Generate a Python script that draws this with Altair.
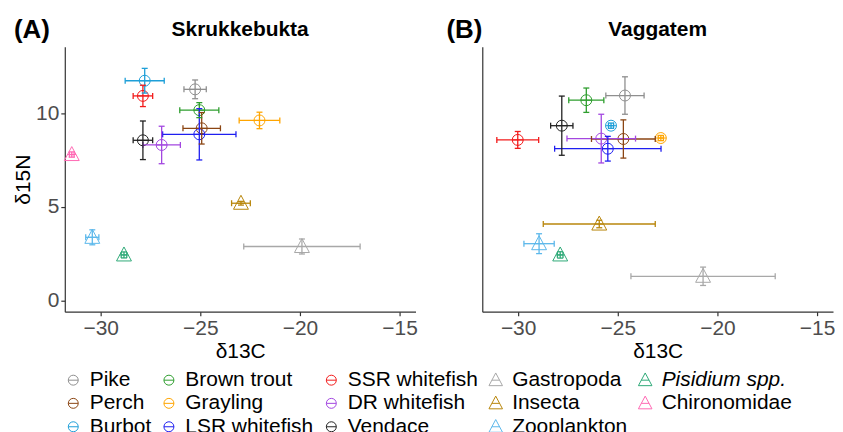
import altair as alt
import pandas as pd

FONT = "Liberation Sans"

species = ["Pike", "Perch", "Burbot", "Brown trout", "Grayling", "LSR whitefish",
           "SSR whitefish", "DR whitefish", "Vendace", "Gastropoda", "Insecta",
           "Zooplankton", "Pisidium spp.", "Chironomidae"]
fish = ["Pike", "Perch", "Burbot", "Brown trout", "Grayling", "LSR whitefish",
        "SSR whitefish", "DR whitefish", "Vendace"]
colors = ["#8f8f8f", "#8B4513", "#1E9FD8", "#2E9E2E", "#FFA500", "#1F1FF0",
          "#F21B1B", "#A347E0", "#222222", "#A8A8A8", "#B8860B",
          "#5CB8EB", "#2FAA78", "#FF69B4"]

# Skrukkebukta (A): mean d13C, sd d13C, mean d15N, sd d15N
a_x = [-25.26, -24.93, -27.79, -25.05, -22.03, -25.05, -27.88, -26.94, -27.88,
       -19.90, -22.96, -30.42, -28.83, -31.45]
a_xsd = [0.56, 0.94, 0.98, 0.98, 1.02, 1.84, 0.49, 0.94, 0.49,
         2.92, 0.47, 0.33, 0.14, 0.12]
a_y = [11.27, 9.19, 11.73, 10.16, 9.61, 8.87, 10.92, 8.30, 8.55,
       2.88, 5.19, 3.37, 2.43, 7.79]
a_ysd = [0.50, 0.84, 0.66, 0.40, 0.44, 1.37, 0.57, 1.00, 1.03,
         0.40, 0.10, 0.40, 0.16, 0.14]

# Vaggatem (B)
b_x = [-24.64, -24.72, -25.34, -26.58, -22.84, -25.50, -30.02, -25.83, -27.81,
       -20.72, -25.93, -28.95, -27.89, None]
b_xsd = [0.96, 1.60, 0.13, 0.88, 0.13, 2.67, 1.05, 1.72, 0.56,
         3.62, 2.81, 0.76, 0.14, None]
b_y = [10.94, 8.62, 9.33, 10.69, 8.67, 8.10, 8.57, 8.64, 9.33,
       1.29, 4.08, 3.03, 2.43, None]
b_ysd = [1.00, 1.02, 0.14, 0.65, 0.14, 0.66, 0.45, 1.30, 1.58,
         0.49, 0.20, 0.53, 0.17, None]

CIRCLE = "M-1,0A1,1 0 1,1 1,0A1,1 0 1,1 -1,0Z M-1,0L1,0"
TRIANGLE = "M0,-1.45L1.36,1.1L-1.36,1.1Z M-0.78,0L0.78,0"

shapes = [CIRCLE if s in fish else TRIANGLE for s in species]


def frame(xs, xsd, ys, ysd):
    rows = []
    for s, x, sx, y, sy in zip(species, xs, xsd, ys, ysd):
        if x is None:
            continue
        rows.append({"species": s, "x": x, "y": y, "xlo": x - sx, "xhi": x + sx,
                     "ylo": y - sy, "yhi": y + sy})
    return pd.DataFrame(rows)


leg = alt.Legend(orient="none", legendX=-2, legendY=324, columns=5, title=None,
                 labelFontSize=21, labelFont=FONT, labelColor="black",
                 labelFontStyle=alt.ExprRef("datum.value == 'Pisidium spp.' ? 'italic' : 'normal'"),
                 symbolSize=100, symbolStrokeWidth=1, labelOffset=6,
                 columnPadding=7, rowPadding=1.5, labelLimit=0, padding=0)

xscale = alt.Scale(domain=[-31.8, -14.2], nice=False, zero=False)
yscale = alt.Scale(domain=[-0.6, 13.55], nice=False, zero=False)
W, H = 352, 266
LW = 1.3
CAP = 3


def panel(df, title, tag, tag_x, show_y):
    base = alt.Chart(df)
    stroke = alt.Stroke("species:N", scale=alt.Scale(domain=species, range=colors),
                        legend=leg)
    shape = alt.Shape("species:N", scale=alt.Scale(domain=species, range=shapes),
                      legend=leg)
    xaxis = alt.Axis(values=[-30, -25, -20, -15], title="δ13C")
    if show_y:
        yaxis = alt.Axis(values=[0, 5, 10], title="δ15N")
    else:
        yaxis = alt.Axis(labels=False, ticks=False, title="")
    X = alt.X("x:Q", scale=xscale, axis=xaxis)
    Y = alt.Y("y:Q", scale=yscale, axis=yaxis)
    pts = base.mark_point(filled=False, size=121, strokeWidth=1, opacity=1).encode(
        x=X, y=Y, stroke=stroke, shape=shape)
    hbar = base.mark_rule(strokeWidth=LW).encode(
        x=alt.X("xlo:Q", scale=xscale, axis=xaxis), x2="xhi:Q", y=Y, stroke=stroke)
    hcap1 = base.mark_rule(strokeWidth=LW, yOffset=-CAP, y2Offset=CAP).encode(
        x=alt.X("xlo:Q", scale=xscale), y=Y, y2=alt.Y2("y:Q"), stroke=stroke)
    hcap2 = base.mark_rule(strokeWidth=LW, yOffset=-CAP, y2Offset=CAP).encode(
        x=alt.X("xhi:Q", scale=xscale), y=Y, y2=alt.Y2("y:Q"), stroke=stroke)
    vbar = base.mark_rule(strokeWidth=LW).encode(
        x=X, y=alt.Y("ylo:Q", scale=yscale), y2="yhi:Q", stroke=stroke)
    vcap1 = base.mark_rule(strokeWidth=LW, xOffset=-CAP, x2Offset=CAP).encode(
        x=X, x2=alt.X2("x:Q"), y=alt.Y("ylo:Q", scale=yscale), stroke=stroke)
    vcap2 = base.mark_rule(strokeWidth=LW, xOffset=-CAP, x2Offset=CAP).encode(
        x=X, x2=alt.X2("x:Q"), y=alt.Y("yhi:Q", scale=yscale), stroke=stroke)
    tagc = alt.Chart(pd.DataFrame({"t": [tag]})).mark_text(
        fontSize=26, fontWeight="bold", font=FONT, align="center", baseline="middle",
        color="black").encode(text="t:N", x=alt.value(tag_x), y=alt.value(-17))
    titc = alt.Chart(pd.DataFrame({"t": [title]})).mark_text(
        fontSize=21, fontWeight="bold", font=FONT, align="center", baseline="middle",
        color="black").encode(text="t:N", x=alt.value(W / 2), y=alt.value(-17))
    return alt.layer(pts, hbar, hcap1, hcap2, vbar, vcap1, vcap2, tagc, titc).properties(
        width=W, height=H)


dfa = frame(a_x, a_xsd, a_y, a_ysd)
dfb = frame(b_x, b_xsd, b_y, b_ysd)

chart = alt.hconcat(
    panel(dfa, "Skrukkebukta", "(A)", -33, True),
    panel(dfb, "Vaggatem", "(B)", -18, False),
    spacing=28,
).properties(
    padding={"left": 4, "top": 8, "right": 0, "bottom": 0}
).configure_view(stroke=None).configure_axis(
    grid=False, domainColor="#333333", domainWidth=1.2, tickColor="#333333",
    tickWidth=1.2, tickSize=4, labelFontSize=21, labelFont=FONT, labelColor="#4D4D4D",
    labelPadding=2, titleFontSize=21, titleFont=FONT, titleFontWeight="normal",
    titleColor="black", titlePadding=2
).configure_legend(labelFont=FONT)

chart.save("out.html", embed_options={"renderer": "svg", "actions": False})
